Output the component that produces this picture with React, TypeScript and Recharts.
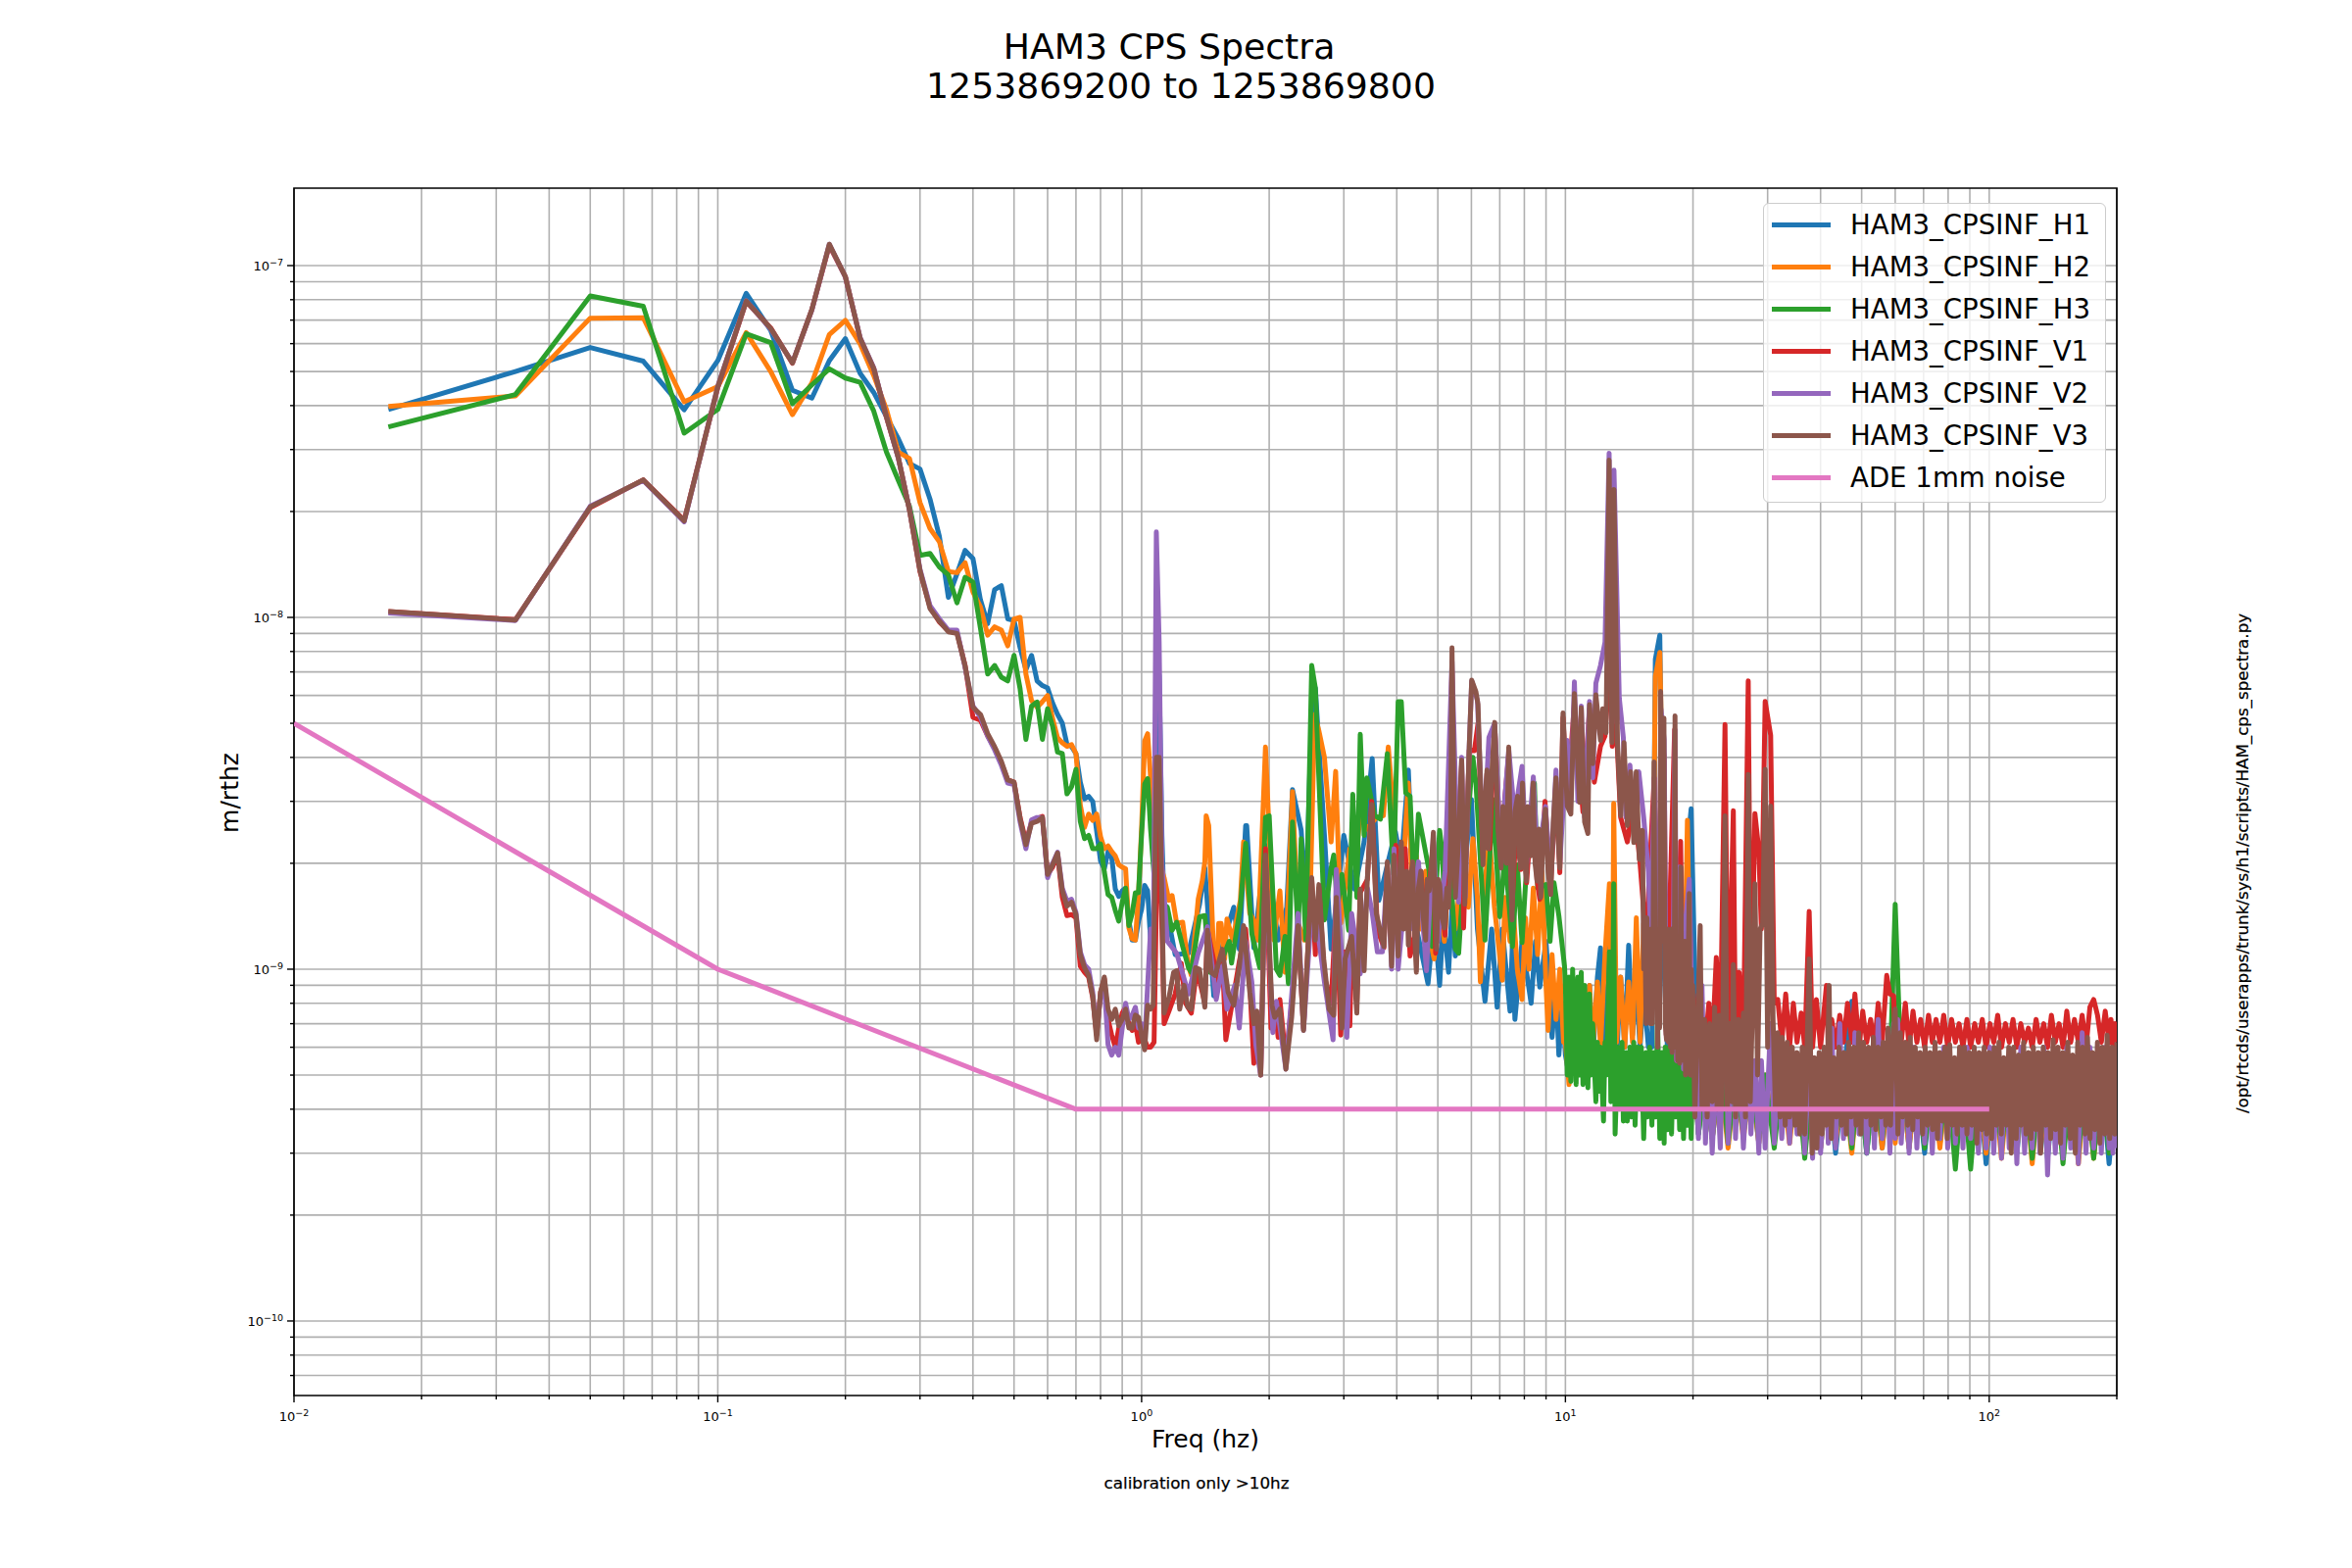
import React from "react";
import {
  LineChart,
  Line,
  XAxis,
  YAxis,
  CartesianGrid,
  Legend,
  ReferenceArea,
} from "recharts";

const FONT = "'DejaVu Sans', sans-serif";

// everything below is in nm/rthz, converted to m/rthz when the points are built
const lowFreqs = [
  0.0167, 0.0333, 0.05, 0.0667, 0.0833, 0.1, 0.1167, 0.1333, 0.15, 0.1667,
  0.1833, 0.2, 0.2167, 0.2333, 0.25, 0.2667, 0.2833, 0.3, 0.3167, 0.3333,
  0.35, 0.3667, 0.3833, 0.4, 0.4167, 0.4333, 0.45, 0.4667, 0.4833, 0.5,
  0.5167, 0.5333, 0.55, 0.5667, 0.5833, 0.6, 0.6167, 0.6333, 0.65, 0.6667,
  0.6833, 0.7, 0.7167, 0.7333, 0.75, 0.7667, 0.7833, 0.8, 0.8167, 0.8333,
  0.85, 0.8667, 0.8833, 0.9, 0.9167, 0.9333, 0.95, 0.9667, 0.9833, 1,
  1.0167, 1.0333, 1.05,
];

const h1Low = [
  39, 50, 58.5, 53.5, 38.9, 53.7, 83.4, 65.4, 44.2, 42,
  53.7, 62, 49.4, 43.6, 37.2, 32.2, 27.4, 26.4, 21.7, 17,
  11.4, 13.3, 15.5, 14.7, 11.2, 9.6, 12, 12.3, 9.9, 9.8,
  8.2, 7.1, 7.8, 6.6, 6.4, 6.3, 5.7, 5.3, 5, 4.35,
  4.3, 4.1, 3.4, 3.05, 3.1, 3, 2.47, 2.03, 1.93, 2.16,
  2.08, 1.69, 1.61, 1.67, 1.7, 1.37, 1.21, 1.21, 1.37, 1.48,
  1.73, 1.67, 1.21,
];
const h2Low = [
  39.8, 42.6, 70.9, 71.1, 41, 45.3, 64.5, 50, 37.7, 46.4,
  63.7, 69.9, 59.9, 48.7, 39, 29.5, 28.3, 21.2, 17.9, 16.4,
  13.5, 13.4, 14.3, 11.8, 10.7, 8.9, 9.4, 9.2, 8.3, 9.9,
  10, 6.9, 5.8, 5.55, 5.76, 6, 5.15, 4.55, 4.4, 4.3,
  4.35, 4.1, 2.93, 2.53, 2.76, 2.65, 2.76, 2.38, 2.2, 2.24,
  2.16, 2.1, 1.98, 1.95, 1.93, 1.31, 1.22, 1.21, 1.62, 2.53,
  4.45, 4.67, 3.5,
];
const h3Low = [
  34.8, 43, 82, 76.6, 33.4, 39, 64, 60.4, 40.5, 45.8,
  50.9, 47.9, 46.6, 38.6, 29.5, 24.5, 20.7, 15, 15.2, 13.9,
  13.2, 11, 13, 12.6, 9.3, 6.9, 7.3, 6.76, 6.6, 7.8,
  6.27, 4.5, 5.6, 5.75, 4.5, 5.5, 4.9, 4.14, 4.1, 3.15,
  3.3, 3.7, 2.63, 2.35, 2.4, 2.2, 2.2, 2.27, 1.89, 1.63,
  1.6, 1.47, 1.37, 1.55, 1.7, 1.33, 1.44, 1.65, 1.65, 2.42,
  3.36, 3.48, 2.5,
];
const v1Low = [
  10.4, 9.85, 20.5, 24.6, 18.9, 45, 79, 66.5, 52.8, 75,
  114, 93, 62, 51, 37, 28.5, 20.2, 13.5, 10.7, 9.7,
  9.15, 9.05, 7.3, 5.2, 5.1, 4.6, 4.25, 3.85, 3.45, 3.4,
  2.7, 2.3, 2.62, 2.68, 2.72, 1.86, 1.95, 2.12, 1.6, 1.42,
  1.43, 1.4, 1.02, 0.98, 0.95, 0.83, 0.65, 0.86, 0.94, 0.72,
  0.65, 0.6, 0.68, 0.75, 0.78, 0.7, 0.67, 0.7, 0.62, 0.65,
  0.63, 0.6, 0.6,
];
const v2Low = [
  10.3, 9.8, 20.7, 24.5, 18.7, 45.4, 79.5, 66, 53, 74.8,
  115, 92.8, 62.4, 51.2, 37.3, 28.3, 20.3, 13.7, 10.8, 9.9,
  9.2, 9.2, 7.2, 5.6, 5.2, 4.6, 4.2, 3.8, 3.38, 3.35,
  2.62, 2.2, 2.66, 2.7, 2.7, 1.82, 2, 2.15, 1.7, 1.56,
  1.58, 1.45, 1.12, 1.03, 1, 0.86, 0.66, 0.84, 0.9, 0.61,
  0.57, 0.6, 0.57, 0.68, 0.8, 0.72, 0.74, 0.78, 0.68, 0.7,
  0.62, 0.9, 1.3,
];
const v3Low = [
  10.4, 9.83, 20.6, 24.6, 18.8, 45.3, 79.3, 66.3, 52.9, 75,
  115, 93, 62.2, 51, 37.2, 28.4, 20.2, 13.6, 10.6, 9.75,
  9.1, 9, 7.27, 5.55, 5.3, 4.67, 4.29, 3.9, 3.45, 3.4,
  2.68, 2.26, 2.6, 2.63, 2.7, 1.86, 1.98, 2.14, 1.67, 1.51,
  1.55, 1.43, 1.1, 1.01, 0.96, 0.84, 0.63, 0.86, 0.95, 0.77,
  0.72, 0.77, 0.69, 0.72, 0.77, 0.68, 0.68, 0.74, 0.73, 0.65,
  0.59, 0.79, 0.77,
];

// 1 to 10 Hz, read peak by peak
const h1MidF = [
  1.0667, 1.083, 1.1, 1.1167, 1.13, 1.17, 1.2, 1.29, 1.37, 1.41, 1.48, 1.56, 1.65, 1.7, 1.76, 1.77, 1.84,
  1.96, 2.1, 2.2, 2.27, 2.38, 2.44, 2.5, 2.57, 2.7, 2.8, 3, 3.18, 3.35, 3.5, 3.63, 3.97, 4.1, 4.26, 4.4,
  4.74, 4.9, 5.05, 5.15, 5.3, 5.4, 5.5, 5.8, 6, 6.2, 6.46, 6.7, 6.9, 7.1, 7.4, 7.5, 7.6, 7.9, 8.3, 8.5,
  8.7, 9, 9.3, 9.5, 9.65, 9.85,
];
const h1MidV = [
  1.07, 6.7, 6.85, 2.4, 1.5, 1.29, 1.1, 1.11, 1.53, 1.94, 0.84, 1.2, 1.5, 1.14, 2.56, 2.56, 1.15,
  2.25, 1.21, 1.5, 3.24, 2.48, 1.53, 4, 6.3, 2.4, 1.14, 2.4, 1.69, 2.3, 3.97, 1.57, 2.46, 2, 3.68, 1.4,
  0.91, 1.4, 0.9, 1.4, 0.98, 1.5, 1.09, 2, 3.04, 1.3, 0.81, 1.3, 0.78, 1.3, 0.76, 1.2, 0.72, 1.2, 0.8, 1.2,
  0.89, 1.2, 0.64, 0.9, 0.57, 0.8,
];
const h2MidF = [
  1.08, 1.13, 1.16, 1.18, 1.21, 1.25, 1.29, 1.31, 1.36, 1.39, 1.41, 1.42, 1.44, 1.48, 1.5, 1.52, 1.54, 1.57,
  1.59, 1.64, 1.71, 1.74, 1.8, 1.84, 1.88, 1.89, 1.96, 2.05, 2.12, 2.18, 2.27, 2.34, 2.42, 2.5, 2.56, 2.62,
  2.7, 2.8, 2.87, 2.95, 3.1, 3.2, 3.28, 3.4, 3.58, 3.72, 3.82, 3.88, 3.98, 4.03, 4.1, 4.2, 4.26, 4.36, 4.45,
  4.56, 4.68, 4.77, 4.9, 5.05, 5.18, 5.3, 5.5, 5.7, 5.9, 6.05, 6.2, 6.3, 6.5, 6.62, 6.8, 7.1, 7.2, 7.4, 7.5,
  7.7, 7.9, 8.05, 8.2, 8.4, 8.6, 8.8, 9, 9.1, 9.3, 9.5, 9.7, 9.9,
];
const h2MidV = [
  2.2, 1.82, 1.57, 1.62, 1.35, 1.36, 1.02, 0.96, 1.58, 1.78, 2.02, 2.73, 2.56, 1.07, 0.86, 1.35, 1.35, 1.07,
  1.39, 1.21, 1.57, 2.3, 1.44, 1.38, 1.21, 1.39, 4.28, 1.21, 1.67, 0.98, 3.2, 1.35, 1.21, 1.63, 5.3, 4.76,
  4, 2.3, 3.65, 1.35, 2.2, 2.07, 2.73, 2.5, 2.7, 2.73, 4.28, 3.38, 2, 2.2, 1.4, 2.6, 3.38, 1.5, 2.1,
  1.3, 1.9, 1.25, 1.07, 1.6, 1.2, 1.9, 1.3, 2, 1.5, 2.35, 1.6, 0.92, 1.9, 2.35, 1.5, 0.93, 1.6, 1.2, 1.6,
  1, 0.82, 1.4, 1, 1.7, 1.1, 1.9, 0.9, 0.67, 1.1, 0.72, 1, 0.62,
];
const h3MidF = [
  1.08, 1.15, 1.18, 1.21, 1.25, 1.29, 1.31, 1.37, 1.41, 1.45, 1.5, 1.55, 1.61, 1.63, 1.71, 1.76, 1.82, 1.9,
  1.96, 2, 2.08, 2.12, 2.18, 2.22, 2.27, 2.34, 2.38, 2.44, 2.52, 2.57, 2.7, 2.8, 2.84, 2.9, 2.97, 3.08, 3.15,
  3.22, 3.28, 3.35, 3.4, 3.55, 3.66, 3.8, 3.93, 4.03, 4.1, 4.2, 4.3, 4.4, 4.5, 4.77, 4.85, 5.05, 5.13, 5.2,
  5.3, 5.5, 5.6, 5.8, 6.05, 6.15, 6.46, 6.75, 7, 7.2, 7.5, 7.7, 7.9, 8.05, 8.45, 8.6, 9, 9.2, 9.4, 9.65, 9.95,
];
const h3MidV = [
  1.6, 1.5, 1.29, 1.36, 1.16, 1.01, 0.98, 1.41, 1.42, 0.98, 1, 1.07, 1.2, 1.04, 1.5, 2.28, 1.26, 1.01,
  2.7, 2.73, 1, 0.96, 1.24, 0.91, 2.62, 1.26, 2.35, 1.21, 7.3, 6.3, 1.38, 1.94, 2.11, 1.5, 1.86, 1.29, 3.14,
  1.6, 4.65, 2.4, 3.5, 2.73, 2.67, 4.1, 1.86, 5.76, 5.76, 3.17, 3.1, 1.6, 2.76, 1.9, 1.16, 2.48, 2.11, 1.3,
  2.3, 1.14, 1.11, 2.2, 4, 3.38, 1.21, 3.04, 1.41, 2.11, 1.16, 1.98, 1.19, 1.74, 3.38, 1.7, 1.74, 1.2, 1.76, 1.42, 1.02,
];
const v1MidF = [
  1.07, 1.096, 1.13, 1.16, 1.2, 1.24, 1.27, 1.31, 1.35, 1.41, 1.43, 1.47, 1.52, 1.55, 1.58, 1.65, 1.7, 1.76,
  1.8, 1.84, 1.87, 1.91, 1.96, 2.02, 2.06, 2.1, 2.12, 2.19, 2.26, 2.34, 2.41, 2.52, 2.57, 2.62, 2.7, 2.8, 2.88,
  2.95, 3.02, 3.1, 3.13, 3.22, 3.28, 3.41, 3.49, 3.6, 3.73, 3.8, 3.89, 3.98, 4.1, 4.19, 4.3, 4.45, 4.56, 4.68,
  4.88, 4.94, 5.05, 5.2, 5.4, 5.5, 5.69, 5.75, 5.93, 6.1, 6.22, 6.39, 6.53, 6.62, 6.81, 7.05, 7.2, 7.35, 7.48,
  7.71, 7.85, 7.92, 8.1, 8.39, 8.57, 8.7, 8.95, 9.23, 9.5, 9.7, 9.87, 10.1,
];
const v1MidV = [
  0.62, 3.5, 0.7, 0.76, 0.85, 1.04, 0.8, 0.75, 1, 0.8, 1.3, 1.1, 0.9, 1.1, 0.63, 0.85, 1.05, 1.3,
  0.9, 0.54, 0.72, 0.5, 2.2, 0.68, 0.8, 0.64, 0.82, 0.55, 0.8, 1.3, 0.68, 1.8, 1.1, 1.7, 0.95, 0.8, 1.55,
  0.65, 1.12, 0.69, 1.2, 0.8, 1.65, 1.8, 3, 1.3, 1.15, 2, 1.1, 2.25, 1.3, 2.2, 1.09, 1.3, 1.9, 1.3,
  2.3, 1.11, 1.7, 1.25, 7, 1.7, 3.8, 1.31, 4.2, 4.18, 5, 2.1, 3.6, 2.2, 4.9, 2, 3.07, 4.1, 1.5,
  3, 1.92, 3.2, 1.76, 3.3, 1.8, 1.58, 3, 1.7, 3.4, 1.88, 5.2, 3,
];
const v2MidF = [
  1.0667, 1.0833, 1.1, 1.1167, 1.15, 1.21, 1.25, 1.29, 1.36, 1.43, 1.5, 1.55, 1.59, 1.66, 1.7, 1.76, 1.82, 1.86,
  1.91, 1.96, 2.04, 2.08, 2.19, 2.34, 2.41, 2.52, 2.6, 2.7, 2.83, 2.88, 3.05, 3.13, 3.28, 3.41, 3.5, 3.6, 3.7,
  3.8, 3.89, 3.94, 4.03, 4.15, 4.3, 4.5, 4.7, 4.88, 5, 5.2, 5.4, 5.6, 5.69, 5.8, 5.93, 6.01, 6.2, 6.4, 6.6,
  6.81, 7.05, 7.2, 7.35, 7.6, 7.71, 7.9, 8.1, 8.4, 8.6, 8.97, 9.23, 9.5, 9.7,
];
const v2MidV = [
  1.2, 17.5, 8.5, 2, 1.2, 1.11, 0.97, 0.85, 1.11, 1.32, 0.82, 1.02, 0.77, 0.9, 0.68, 1.2, 0.92, 0.61,
  0.5, 2, 0.66, 0.81, 0.52, 1.44, 0.67, 1.5, 1.3, 0.92, 0.63, 1.92, 0.64, 1.44, 0.97, 1.7, 1.45, 1.12, 1.12,
  1.94, 1, 2.2, 1, 1.48, 1.3, 2.02, 0.99, 2.4, 1.2, 1.9, 7.5, 1.55, 4, 1.6, 4.3, 6.6, 5.8, 2.2, 4.56,
  5, 2, 3.1, 4.2, 2.67, 3.1, 3.77, 2, 3.52, 2, 2.9, 1.8, 3.68, 2,
];
const v3MidF = [
  1.065, 1.0833, 1.1, 1.13, 1.16, 1.19, 1.21, 1.23, 1.26, 1.285, 1.31, 1.34, 1.37, 1.41, 1.43, 1.46, 1.49, 1.55, 1.6,
  1.65, 1.7, 1.74, 1.8, 1.84, 1.87, 1.91, 1.96, 2.03, 2.06, 2.12, 2.19, 2.26, 2.34, 2.41, 2.52, 2.57, 2.62, 2.69,
  2.77, 2.84, 2.88, 2.97, 3.02, 3.13, 3.22, 3.28, 3.35, 3.41, 3.49, 3.58, 3.73, 3.8, 3.89, 3.94,
  4.03, 4.07, 4.1, 4.15, 4.19, 4.22, 4.26, 4.31, 4.36, 4.4, 4.45, 4.5, 4.56, 4.62, 4.68, 4.72, 4.77, 4.82, 4.88, 4.92,
  4.97, 5.01, 5.05, 5.12, 5.18, 5.25, 5.3, 5.35, 5.4, 5.5, 5.58, 5.69, 5.79, 5.93, 6.01, 6.15, 6.22,
  6.39, 6.46, 6.53, 6.57, 6.62, 6.72, 6.81, 6.93, 7.05, 7.12, 7.18, 7.26, 7.35, 7.42, 7.48, 7.6, 7.71, 7.78, 7.85, 7.92,
  8, 8.09, 8.15, 8.2, 8.3, 8.39, 8.48, 8.57, 8.66, 8.75, 8.86, 8.97, 9.1, 9.23, 9.36, 9.5, 9.6, 9.7, 9.78, 9.87,
];
const v3MidV = [
  0.79, 4, 4, 0.75, 0.83, 0.98, 0.99, 0.77, 0.9, 0.78, 0.77, 1.01, 1, 0.78, 1.29, 0.98, 0.96, 1.14, 0.86,
  0.79, 1.01, 1.33, 0.86, 0.7, 0.76, 0.5, 2.11, 0.79, 0.73, 0.77, 0.52, 0.73, 1.33, 0.67, 1.82, 1.21, 1.74, 1.07,
  0.77, 0.74, 1.6, 0.68, 1.07, 1.24, 0.75, 1.69, 0.99, 1.82, 2.94, 1.44, 1.16, 2.02, 1.02, 2.11,
  1.09, 1.9, 2.3, 1.3, 1.6, 1.9, 1.17, 1.8, 2.02, 1.3, 0.98, 1.7, 1.9, 1.4, 1.21, 1.8, 1.67, 1.9, 2.45, 1.5,
  1.14, 1.8, 1.74, 1.4, 1.31, 1.7, 1.5, 1.9, 8.2, 1.6, 2.2, 3.93, 1.53, 4.28, 6.63, 6.15, 5.65,
  1.98, 3, 3.68, 2.2, 2.5, 3.8, 5.03, 2.5, 1.94, 2.9, 2.85, 2, 4.28, 2, 1.38, 2.8, 3.1, 2.1, 1.94, 3.38,
  2.1, 1.78, 2.9, 2.79, 2.1, 3.38, 2, 1.78, 2.5, 1.6, 2.4, 2.85, 1.9, 1.63, 2.6, 3.5, 2.4, 1.94, 3.2, 5.35,
];

// 10 to 20 Hz
const highF = [
  10, 10.2, 10.4, 10.7, 10.9, 11.1, 11.4, 11.6, 11.9, 12.1, 12.4, 12.7, 12.9, 13, 13.2, 13.5, 13.8,
  14.1, 14.4, 14.7, 15, 15.3, 15.7, 16, 16.3, 16.7, 17.1, 17.4, 17.8, 18.2, 18.6, 19, 19.4, 19.8,
];
const h1HighV = [
  0.57, 0.5, 0.8, 0.55, 0.88, 0.5, 0.9, 0.55, 0.95, 1.15, 0.55, 1.2, 0.55, 1.2, 0.55, 0.95, 0.6,
  1.17, 0.65, 0.9, 0.6, 0.85, 0.6, 0.6, 7.6, 8.9, 1, 0.6, 0.7, 0.55, 0.7, 0.55, 2.18, 2.86,
];
const h2HighV = [
  0.62, 0.47, 0.85, 0.6, 0.8, 0.55, 0.9, 0.6, 0.92, 0.6, 1.1, 1.75, 0.6, 2.96, 0.62, 0.95, 0.6,
  0.92, 0.62, 1.4, 0.62, 1.35, 0.8, 0.7, 6.8, 7.95, 1.92, 0.7, 0.8, 0.6, 0.75, 0.6, 2.65, 0.6,
];
const h3HighF = [
  10, 10.1, 10.2, 10.3, 10.4, 10.6, 10.7, 10.8, 10.9, 11,
  11.1, 11.3, 11.4, 11.5, 11.6, 11.8, 11.9, 12, 12.1, 12.3,
  12.4, 12.5, 12.7, 12.8, 12.9, 13, 13.1, 13.3, 13.4, 13.6,
  13.7, 13.9, 14, 14.2, 14.3, 14.5, 14.6, 14.8, 15, 15.1,
  15.3, 15.5, 15.6, 15.8, 16, 16.1, 16.3, 16.5, 16.7, 16.9,
  17.1, 17.2, 17.4, 17.6, 17.8, 18, 18.2, 18.4, 18.6, 18.8,
  19, 19.2, 19.4, 19.6, 19.8, 20,
];
const h3HighV = [
  0.9, 0.5, 0.95, 0.48, 1, 0.47, 0.95, 0.5, 0.98, 0.47,
  0.9, 0.46, 0.85, 0.5, 0.7, 0.42, 0.62, 0.45, 0.6, 0.37,
  0.62, 0.5, 1.12, 0.42, 0.55, 1.75, 0.34, 0.6, 0.4, 0.62,
  0.37, 0.58, 0.37, 0.6, 0.38, 0.62, 0.36, 0.6, 0.4, 0.6,
  0.33, 0.58, 0.38, 0.6, 0.36, 0.58, 0.38, 0.72, 0.33, 0.58,
  0.32, 0.6, 0.35, 0.6, 0.34, 0.58, 0.38, 0.6, 0.35, 0.58,
  0.33, 0.56, 0.36, 0.58, 0.33, 0.56,
];
const v1HighF = [10.5, 11, 11.4, 11.7, 12.1, 12.4, 12.7, 12.9, 13, 13.5, 14, 14.5, 15, 15.5, 16.2, 16.6, 16.8, 17.1, 17.3, 18.1, 18.3, 18.7, 19, 19.6, 19.97];
const v1HighV = [5.7, 2.8, 5.5, 3.4, 4.3, 4.6, 8, 4.3, 7, 2.7, 2.3, 3, 2, 1.2, 3.5, 0.7, 4.8, 4, 0.65, 4.8, 0.55, 2.31, 0.55, 1.5, 0.7];
const v2HighF = [10.1, 10.3, 10.5, 10.7, 10.9, 11.1, 11.4, 11.6, 11.8, 12.1, 12.4, 12.68, 12.88, 13.02, 13.4, 13.7, 13.9, 14.2, 14.5, 14.9, 15.3, 15.7, 15.9, 16.2, 16.6, 16.8, 17.1, 17.3, 17.6, 17.9, 18.14, 18.3, 18.6, 19, 19.1, 19.6, 19.97];
const v2HighV = [4.47, 3, 6.56, 3, 5.6, 2.7, 5.77, 3.5, 6.5, 7.3, 8.5, 29.3, 5, 26.2, 5.9, 4.55, 2.7, 3.8, 2.5, 3.64, 2.7, 1.89, 1.2, 3.5, 0.7, 5.5, 4.5, 0.65, 1.25, 0.6, 4.8, 0.55, 1.95, 0.52, 1.27, 1.8, 0.6];
const v3HighF = [
  10.1, 10.3, 10.5, 10.8, 10.9, 11.1, 11.3, 11.4, 11.6, 11.8, 12.1, 12.25, 12.47, 12.68, 12.88, 13.02, 13.27, 13.51,
  13.75, 14, 14.25, 14.5, 14.69, 14.95, 15.2, 15.3, 15.4, 15.5, 15.57, 15.66, 15.75, 15.85, 15.94, 16.02, 16.1, 16.19,
  16.3, 16.4, 16.5, 16.57, 16.68, 16.78, 16.93, 17.08, 17.2, 17.32, 17.4, 17.5, 17.6, 17.7, 17.78, 17.85, 17.95, 18.05,
  18.14, 18.22, 18.3, 18.4, 18.5, 18.6, 18.73, 18.82, 18.9, 19, 19.1, 19.2, 19.3, 19.4, 19.5, 19.6, 19.7, 19.8, 19.9, 19.97,
];
const v3HighV = [
  2.91, 2.76, 6.07, 2.98, 5.53, 2.62, 2.43, 5.65, 3.84, 6.02, 4.47, 5.5, 4.7, 28, 4.41, 23.1, 4.41, 2.73,
  4.41, 2.56, 3.64, 2.29, 3.64, 2.05, 2.48, 1, 1.3, 0.7, 1.4, 0.75, 1.2, 0.7, 1.3, 0.7, 1.2, 3.88,
  0.8, 1.3, 0.6, 1.2, 0.68, 6.16, 1.2, 5.17, 0.7, 0.63, 1.3, 0.62, 1.2, 0.6, 1.3, 0.58, 1.1, 0.6,
  5.25, 0.6, 1.1, 0.55, 1.1, 0.54, 1.95, 0.6, 1.1, 0.55, 1.2, 0.5, 1.2, 0.52, 1.1, 1.64, 0.5, 1, 0.5, 0.9,
];

// the 20 to 200 Hz band
const bandF = [
  20.2, 20.6, 21, 21.4, 21.8, 22.2, 22.7, 23.2, 23.8, 24.2,
  24.9, 25.2, 25.7, 26.3, 27, 27.4, 28, 28.6, 29, 29.6,
  30.5, 31.1, 31.7, 32.4, 33.1, 33.8, 34.5, 35.2, 36, 36.7,
  37.6, 38.3, 39.1, 40, 41.3, 41.7, 42.5, 43.4, 44.4, 45.3,
  46.3, 47.4, 48.2, 49.3, 50.3, 51.4, 52.5, 53.6, 54.7, 55.9,
  57.3, 58.3, 59.5, 60, 60.8, 62, 63.4, 64.7, 66.1, 67.5,
  68.9, 70.4, 71.9, 73.4, 74.9, 76.5, 78.1, 79.8, 81.5, 83.2,
  84.9, 86.7, 88.6, 90.4, 92.4, 94.3, 96.3, 98.3, 100.4, 102.5,
  104.7, 106.9, 109.2, 111.5, 113.8, 116.2, 118.7, 121.2, 123.7, 126.3,
  129, 131.7, 134.5, 137.3, 140.2, 143.2, 146.2, 149.3, 152.4, 155.7,
  158.9, 162.3, 165.7, 169.2, 172.8, 176.4, 180.1, 183.9, 187.8, 191.8,
  193.8, 195.8, 197.9, 200,
];
const v1BandV = [
  0.62, 0.85, 0.72, 0.62, 0.8, 0.6, 1.08, 0.62, 4.96, 0.62,
  2.82, 0.6, 0.98, 0.62, 6.6, 0.7, 2.77, 2.18, 1.3, 5.77,
  4.62, 0.8, 0.82, 0.62, 0.85, 0.6, 0.8, 0.62, 0.75, 0.6,
  1.46, 0.6, 0.82, 0.6, 0.9, 0.6, 0.72, 0.6, 0.74, 0.62,
  0.8, 0.62, 0.85, 0.6, 0.76, 0.62, 0.72, 0.6, 0.8, 0.62,
  0.96, 0.85, 0.84, 0.62, 0.72, 0.62, 0.8, 0.6, 0.76, 0.62,
  0.72, 0.6, 0.74, 0.62, 0.72, 0.62, 0.74, 0.6, 0.72, 0.62,
  0.7, 0.6, 0.72, 0.6, 0.7, 0.62, 0.72, 0.6, 0.7, 0.62,
  0.74, 0.6, 0.7, 0.62, 0.72, 0.6, 0.7, 0.62, 0.68, 0.6,
  0.72, 0.62, 0.7, 0.6, 0.74, 0.62, 0.7, 0.6, 0.76, 0.62,
  0.72, 0.62, 0.74, 0.6, 0.78, 0.82, 0.74, 0.62, 0.76, 0.62,
  0.72, 0.6, 0.7, 0.62,
];
const v2BandV = [
  0.55, 0.33, 0.9, 0.32, 0.55, 0.3, 0.55, 0.31, 1.2, 0.32,
  0.7, 0.33, 0.6, 0.31, 0.55, 0.34, 0.55, 0.3, 0.55, 0.31,
  0.7, 0.32, 0.55, 0.33, 0.55, 0.32, 0.55, 0.34, 0.55, 0.3,
  0.6, 0.29, 0.55, 0.3, 0.55, 0.32, 0.68, 0.31, 0.7, 0.33,
  0.55, 0.32, 0.66, 0.34, 0.55, 0.3, 0.55, 0.31, 0.72, 0.33,
  0.55, 0.3, 0.7, 0.33, 0.72, 0.32, 0.55, 0.3, 0.6, 0.31,
  0.55, 0.32, 0.55, 0.3, 0.55, 0.33, 0.6, 0.31, 0.55, 0.32,
  0.55, 0.31, 0.6, 0.33, 0.55, 0.3, 0.55, 0.31, 0.6, 0.3,
  0.55, 0.29, 0.55, 0.31, 0.55, 0.28, 0.6, 0.3, 0.55, 0.31,
  0.55, 0.3, 0.6, 0.26, 0.55, 0.3, 0.55, 0.29, 0.6, 0.31,
  0.55, 0.28, 0.66, 0.3, 0.6, 0.31, 0.55, 0.3, 0.6, 0.31,
  0.55, 0.3, 0.55, 0.31,
];
const v3BandF = [
  20.2, 20.5, 20.8, 21, 21.3, 21.6, 21.9, 22.2, 22.5, 22.8,
  23.1, 23.4, 23.8, 24.1, 24.4, 24.7, 24.9, 25.2, 25.6, 25.9,
  26.3, 26.6, 27, 27.3, 27.7, 28, 28.4, 28.8, 29.2, 29.6,
  30, 30.5, 30.9, 31.3, 31.7, 32.1, 32.5, 33, 33.4, 33.8,
  34.3, 34.8, 35.2, 35.7, 36.2, 36.7, 37.2, 37.6, 38.2, 38.7,
  39.2, 39.7, 40.3, 40.8, 41.3, 41.9, 42.4, 43, 43.6, 44.2,
  44.8, 45.4, 46, 46.6, 47.2, 47.9, 48.5, 49.2, 49.8, 50.5,
  51.2, 51.9, 52.6, 53.3, 54, 54.7, 55.5, 56.2, 57, 57.7,
  58.5, 59.3, 60, 60.9, 61.7, 62.5, 63.4, 64.2, 65.1, 66,
  66.9, 67.8, 68.7, 69.6, 70.6, 71.5, 72.5, 73.5, 74.5, 75.5,
  76.5, 77.5, 78.6, 79.6, 80.7, 81.8, 82.9, 84, 85.1, 86.3,
  87.4, 88.6, 89.8, 91, 92.2, 93.5, 94.7, 96, 97.3, 98.6,
  100, 101.3, 102.7, 104, 105.4, 106.8, 108.3, 109.7, 111.2, 112.7,
  114.2, 115.8, 117.3, 118.9, 120.5, 122.1, 123.8, 125.4, 127.1, 128.8,
  130.6, 132.3, 134.1, 135.9, 137.7, 139.6, 141.5, 143.4, 145.3, 147.3,
  149.2, 151.2, 153.3, 155.3, 157.4, 159.6, 161.7, 163.9, 166.1, 168.3,
  170.6, 172.9, 175.2, 177.6, 180, 182.4, 184.8, 187.3, 189.8, 192.4,
  195, 197.6, 200,
];
const v3BandV = [
  0.38, 0.7, 1.33, 0.4, 0.72, 0.38, 0.7, 0.42, 0.78, 0.4,
  0.74, 0.4, 2.73, 0.4, 0.7, 0.42, 1.03, 0.38, 0.72, 0.4,
  0.75, 0.38, 3.58, 0.42, 0.9, 1.75, 0.5, 1.3, 1.35, 3.7,
  0.6, 2.91, 0.72, 0.4, 0.66, 0.38, 0.64, 0.36, 0.62, 0.38,
  0.6, 0.36, 0.58, 0.34, 0.6, 0.34, 0.62, 1.07, 0.3, 0.56,
  0.31, 0.58, 0.34, 0.6, 0.36, 0.9, 0.33, 0.56, 0.38, 0.6,
  0.36, 0.58, 0.34, 0.62, 0.38, 0.6, 0.36, 0.66, 0.34, 0.62,
  0.38, 0.6, 0.36, 0.64, 0.35, 0.6, 0.38, 0.62, 0.36, 0.68,
  0.36, 0.64, 0.77, 0.34, 0.66, 0.38, 0.62, 0.36, 0.64, 0.35,
  0.6, 0.38, 0.58, 0.34, 0.6, 0.36, 0.58, 0.35, 0.62, 0.33,
  0.58, 0.37, 0.6, 0.33, 0.61, 0.36, 0.56, 0.34, 0.6, 0.36,
  0.6, 0.34, 0.58, 0.36, 0.6, 0.32, 0.58, 0.35, 0.6, 0.34,
  0.58, 0.33, 0.6, 0.36, 0.62, 0.34, 0.56, 0.36, 0.6, 0.3,
  0.6, 0.33, 0.57, 0.36, 0.62, 0.34, 0.58, 0.33, 0.6, 0.35,
  0.58, 0.3, 0.6, 0.36, 0.58, 0.33, 0.63, 0.35, 0.6, 0.32,
  0.58, 0.36, 0.62, 0.33, 0.57, 0.3, 0.62, 0.36, 0.6, 0.34,
  0.64, 0.33, 0.58, 0.35, 0.62, 0.32, 0.6, 0.34, 0.65, 0.33,
  0.6, 0.34, 0.62,
];
// the H channels only show under the brown band, fewer points are enough
const hBandF = [
  20.6, 21.4, 22.2, 23.2, 24.2, 25.2, 26.3, 27.4, 28.6, 29.6,
  31.1, 32.4, 33.8, 35.2, 36.7, 38.3, 40, 41.7, 43.4, 45.3,
  47.4, 49.3, 51.4, 53.6, 55.9, 58.3, 60, 62, 64.7, 67.5,
  70.4, 73.4, 76.5, 79.8, 83.2, 86.7, 90.4, 94.3, 98.3, 102.5,
  106.9, 111.5, 116.2, 121.2, 126.3, 131.7, 137.3, 143.2, 149.3, 155.7,
  162.3, 169.2, 176.4, 183.9, 191.8, 200,
];
const h1BandV = [
  0.34, 0.5, 0.33, 0.5, 0.33, 0.5, 0.34, 0.5, 0.32, 0.5,
  0.33, 0.5, 0.34, 0.5, 0.32, 0.5, 0.31, 0.5, 0.3, 0.5,
  0.81, 0.5, 0.3, 0.5, 0.31, 0.5, 0.33, 0.5, 0.31, 0.5,
  0.3, 0.5, 0.32, 0.5, 0.31, 0.5, 0.3, 0.5, 0.28, 0.5,
  0.32, 0.5, 0.3, 0.5, 0.31, 0.5, 0.29, 0.5, 0.3, 0.5,
  0.29, 0.5, 0.3, 0.5, 0.28, 0.5,
];
const h2BandV = [
  0.35, 0.5, 0.33, 0.5, 0.31, 0.5, 0.33, 0.5, 0.32, 0.5,
  0.34, 0.5, 0.32, 0.5, 0.33, 0.5, 0.31, 0.5, 0.32, 0.5,
  0.3, 0.5, 0.33, 0.5, 0.31, 0.5, 0.32, 0.5, 0.31, 0.5,
  0.32, 0.5, 0.31, 0.5, 0.3, 0.5, 0.31, 0.5, 0.3, 0.5,
  0.29, 0.5, 0.31, 0.5, 0.28, 0.5, 0.3, 0.5, 0.29, 0.5,
  0.28, 0.5, 0.29, 0.5, 0.31, 0.5,
];
const h3BandV = [
  0.34, 0.5, 0.33, 0.55, 0.32, 0.5, 0.34, 0.5, 0.33, 0.5,
  0.31, 0.5, 0.34, 0.5, 0.29, 0.5, 0.32, 0.5, 0.34, 0.5,
  0.31, 0.5, 0.3, 0.5, 0.33, 0.5, 1.53, 0.5, 0.33, 0.5,
  0.31, 0.5, 0.33, 0.5, 0.27, 0.5, 0.27, 0.5, 0.33, 0.5,
  0.31, 0.5, 0.32, 0.5, 0.29, 0.5, 0.32, 0.5, 0.28, 0.5,
  0.3, 0.5, 0.29, 0.5, 0.3, 0.5,
];

const adeF = [0.01, 0.1, 0.7, 100];
const adeV = [5, 1, 0.4, 0.4];

const xTicks = [
  0.01, 0.02, 0.03, 0.04, 0.05, 0.06, 0.07, 0.08, 0.09,
  0.1, 0.2, 0.3, 0.4, 0.5, 0.6, 0.7, 0.8, 0.9,
  1, 2, 3, 4, 5, 6, 7, 8, 9,
  10, 20, 30, 40, 50, 60, 70, 80, 90,
  100, 200,
];
const yTicks = [
  7e-11, 8e-11, 9e-11,
  1e-10, 2e-10, 3e-10, 4e-10, 5e-10, 6e-10, 7e-10, 8e-10, 9e-10,
  1e-9, 2e-9, 3e-9, 4e-9, 5e-9, 6e-9, 7e-9, 8e-9, 9e-9,
  1e-8, 2e-8, 3e-8, 4e-8, 5e-8, 6e-8, 7e-8, 8e-8, 9e-8,
  1e-7,
];
const xDomain = [0.01, 200];
const yDomain = [6.14e-11, 1.66e-7];

type Pt = { f: number; v: number };

function pts(freqs: number[], vals: number[]): Pt[] {
  return vals.map((v, i) => ({ f: freqs[i], v: v * 1e-9 })).filter((p) => p.f !== undefined);
}

const seriesList = [
  {
    name: "HAM3_CPSINF_H1",
    color: "#1f77b4",
    data: [...pts(lowFreqs, h1Low), ...pts(h1MidF, h1MidV), ...pts(highF, h1HighV), ...pts(hBandF, h1BandV)],
  },
  {
    name: "HAM3_CPSINF_H2",
    color: "#ff7f0e",
    data: [...pts(lowFreqs, h2Low), ...pts(h2MidF, h2MidV), ...pts(highF, h2HighV), ...pts(hBandF, h2BandV)],
  },
  {
    name: "HAM3_CPSINF_H3",
    color: "#2ca02c",
    data: [...pts(lowFreqs, h3Low), ...pts(h3MidF, h3MidV), ...pts(h3HighF, h3HighV), ...pts(hBandF, h3BandV)],
  },
  {
    name: "HAM3_CPSINF_V1",
    color: "#d62728",
    data: [...pts(lowFreqs, v1Low), ...pts(v1MidF, v1MidV), ...pts(v1HighF, v1HighV), ...pts(bandF, v1BandV)],
  },
  {
    name: "HAM3_CPSINF_V2",
    color: "#9467bd",
    data: [...pts(lowFreqs, v2Low), ...pts(v2MidF, v2MidV), ...pts(v2HighF, v2HighV), ...pts(bandF, v2BandV)],
  },
  {
    name: "HAM3_CPSINF_V3",
    color: "#8c564b",
    data: [...pts(lowFreqs, v3Low), ...pts(v3MidF, v3MidV), ...pts(v3HighF, v3HighV), ...pts(v3BandF, v3BandV)],
  },
  { name: "ADE 1mm noise", color: "#e377c2", data: pts(adeF, adeV) },
];

function isDecade(v: number) {
  const l = Math.log10(v);
  return Math.abs(l - Math.round(l)) < 1e-6;
}

function expLabel(v: number) {
  const e = Math.round(Math.log10(v));
  return e < 0 ? "\u2212" + Math.abs(e) : String(e);
}

function XTick({ x, y, payload }: any) {
  const major = isDecade(payload.value);
  return (
    <g>
      <line x1={x} x2={x} y1={y} y2={y + (major ? 7 : 4)} stroke="#000" strokeWidth={1.4} />
      {major && (
        <text x={x} y={y + 26} textAnchor="middle" fontSize={13} fontFamily={FONT} fill="#000">
          10
          <tspan dy={-5} fontSize={9.5}>
            {expLabel(payload.value)}
          </tspan>
        </text>
      )}
    </g>
  );
}

function YTick({ x, y, payload }: any) {
  const major = isDecade(payload.value);
  return (
    <g>
      <line x1={x} x2={x - (major ? 7 : 4)} y1={y} y2={y} stroke="#000" strokeWidth={1.4} />
      {major && (
        <text x={x - 11} y={y + 5} textAnchor="end" fontSize={13} fontFamily={FONT} fill="#000">
          10
          <tspan dy={-5} fontSize={9.5}>
            {expLabel(payload.value)}
          </tspan>
        </text>
      )}
    </g>
  );
}

function LegendBox() {
  return (
    <div
      style={{
        boxSizing: "border-box",
        width: 350,
        height: 306,
        background: "rgba(255,255,255,0.8)",
        border: "1.6px solid #cccccc",
        borderRadius: 6,
        fontFamily: FONT,
      }}
    >
      {seriesList.map((s) => (
        <div key={s.name} style={{ display: "flex", alignItems: "center", height: 43 }}>
          <div style={{ width: 60, height: 4.6, marginLeft: 8, background: s.color }} />
          <div style={{ marginLeft: 20, fontSize: 27.6, color: "#000", whiteSpace: "nowrap" }}>{s.name}</div>
        </div>
      ))}
    </div>
  );
}

function Note({ x, y, size, text, rotate, bold }: { x: number; y: number; size: number; text: string; rotate?: number; bold?: boolean }) {
  return (
    <div
      style={{
        position: "absolute",
        left: x,
        top: y,
        transform: `translate(-50%, -50%) rotate(${rotate || 0}deg)`,
        fontFamily: FONT,
        fontSize: size,
        color: "#000",
        whiteSpace: "nowrap",
        WebkitTextStroke: bold ? "0.25px #000" : undefined,
      }}
    >
      {text}
    </div>
  );
}

export default function App() {
  return (
    <div style={{ position: "absolute", left: 0, top: 0, width: 2400, height: 1600, background: "#fff", overflow: "hidden" }}>
      <LineChart
        width={2400}
        height={1600}
        margin={{ top: 192, right: 240, bottom: 136, left: 240 }}
      >
        <CartesianGrid stroke="#b0b0b0" strokeWidth={1.6} horizontalValues={yTicks} verticalValues={xTicks} />
        <XAxis
          dataKey="f"
          type="number"
          scale="log"
          domain={xDomain}
          ticks={xTicks}
          interval={0}
          height={40}
          allowDataOverflow
          axisLine={false}
          tickLine={false}
          tickSize={0}
          tickMargin={0}
          tick={<XTick />}
        />
        <YAxis
          dataKey="v"
          type="number"
          scale="log"
          domain={yDomain}
          ticks={yTicks}
          interval={0}
          width={60}
          allowDataOverflow
          axisLine={false}
          tickLine={false}
          tickSize={0}
          tickMargin={0}
          tick={<YTick />}
        />
        {seriesList.map((s) => (
          <Line
            key={s.name}
            data={s.data}
            dataKey="v"
            name={s.name}
            stroke={s.color}
            strokeWidth={5}
            strokeLinejoin="round"
            dot={false}
            activeDot={false}
            isAnimationActive={false}
          />
        ))}
        <ReferenceArea
          x1={xDomain[0]}
          x2={xDomain[1]}
          y1={yDomain[0]}
          y2={yDomain[1]}
          fill="none"
          stroke="#000"
          strokeWidth={1.7}
          ifOverflow="visible"
        />
        <Legend
          layout="vertical"
          align="center"
          verticalAlign="middle"
          wrapperStyle={{ left: 1799, top: 207, width: 350 }}
          content={<LegendBox />}
        />
      </LineChart>
      <Note x={1193} y={47} size={36.2} text="HAM3 CPS Spectra" />
      <Note x={1205} y={87} size={36.2} text="1253869200 to 1253869800" />
      <Note x={1230} y={1468} size={25} text="Freq (hz)" />
      <Note x={234} y={809} size={25} rotate={-90} text="m/rthz" />
      <Note x={1221} y={1513} size={16.7} bold text="calibration only >10hz" />
      <Note x={2288} y={881} size={16.7} bold rotate={-90} text="/opt/rtcds/userapps/trunk/sys/h1/scripts/HAM_cps_spectra.py" />
    </div>
  );
}
